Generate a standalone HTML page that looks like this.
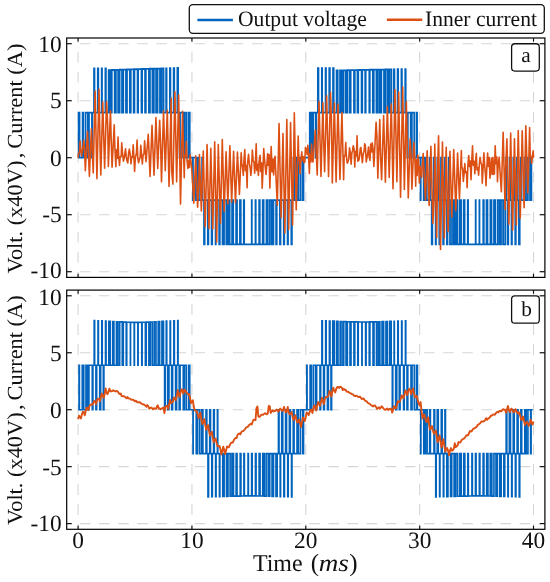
<!DOCTYPE html>
<html><head><meta charset="utf-8"><style>
html,body{margin:0;padding:0;background:#fff;}
svg{display:block;}
.t{font-family:"Liberation Serif",serif;font-size:22px;fill:#111;}
svg{text-rendering:geometricPrecision;}
</style></head><body>
<svg width="550" height="582" viewBox="0 0 550 582">
<rect width="550" height="582" fill="#fff"/>
<line x1="66.70" y1="43.70" x2="544.90" y2="43.70" stroke="#d6d6d6" stroke-width="1.1" stroke-dasharray="10.52 8.60" stroke-dashoffset="5.93"/>
<line x1="66.70" y1="100.70" x2="544.90" y2="100.70" stroke="#d6d6d6" stroke-width="1.1" stroke-dasharray="10.52 8.60" stroke-dashoffset="5.93"/>
<line x1="66.70" y1="157.70" x2="544.90" y2="157.70" stroke="#d6d6d6" stroke-width="1.1" stroke-dasharray="10.52 8.60" stroke-dashoffset="5.93"/>
<line x1="66.70" y1="214.70" x2="544.90" y2="214.70" stroke="#d6d6d6" stroke-width="1.1" stroke-dasharray="10.52 8.60" stroke-dashoffset="5.93"/>
<line x1="66.70" y1="271.70" x2="544.90" y2="271.70" stroke="#d6d6d6" stroke-width="1.1" stroke-dasharray="10.52 8.60" stroke-dashoffset="5.93"/>
<line x1="78.09" y1="38.00" x2="78.09" y2="277.40" stroke="#d6d6d6" stroke-width="1.1" stroke-dasharray="11.00 9.00" stroke-dashoffset="6.20"/>
<line x1="191.94" y1="38.00" x2="191.94" y2="277.40" stroke="#d6d6d6" stroke-width="1.1" stroke-dasharray="11.00 9.00" stroke-dashoffset="6.20"/>
<line x1="305.80" y1="38.00" x2="305.80" y2="277.40" stroke="#d6d6d6" stroke-width="1.1" stroke-dasharray="11.00 9.00" stroke-dashoffset="6.20"/>
<line x1="419.66" y1="38.00" x2="419.66" y2="277.40" stroke="#d6d6d6" stroke-width="1.1" stroke-dasharray="11.00 9.00" stroke-dashoffset="6.20"/>
<line x1="533.51" y1="38.00" x2="533.51" y2="277.40" stroke="#d6d6d6" stroke-width="1.1" stroke-dasharray="11.00 9.00" stroke-dashoffset="6.20"/>
<line x1="66.70" y1="295.80" x2="544.90" y2="295.80" stroke="#d6d6d6" stroke-width="1.1" stroke-dasharray="10.52 8.60" stroke-dashoffset="5.93"/>
<line x1="66.70" y1="352.75" x2="544.90" y2="352.75" stroke="#d6d6d6" stroke-width="1.1" stroke-dasharray="10.52 8.60" stroke-dashoffset="5.93"/>
<line x1="66.70" y1="409.70" x2="544.90" y2="409.70" stroke="#d6d6d6" stroke-width="1.1" stroke-dasharray="10.52 8.60" stroke-dashoffset="5.93"/>
<line x1="66.70" y1="466.65" x2="544.90" y2="466.65" stroke="#d6d6d6" stroke-width="1.1" stroke-dasharray="10.52 8.60" stroke-dashoffset="5.93"/>
<line x1="66.70" y1="523.60" x2="544.90" y2="523.60" stroke="#d6d6d6" stroke-width="1.1" stroke-dasharray="10.52 8.60" stroke-dashoffset="5.93"/>
<line x1="78.09" y1="290.10" x2="78.09" y2="529.30" stroke="#d6d6d6" stroke-width="1.1" stroke-dasharray="11.00 9.00" stroke-dashoffset="6.20"/>
<line x1="191.94" y1="290.10" x2="191.94" y2="529.30" stroke="#d6d6d6" stroke-width="1.1" stroke-dasharray="11.00 9.00" stroke-dashoffset="6.20"/>
<line x1="305.80" y1="290.10" x2="305.80" y2="529.30" stroke="#d6d6d6" stroke-width="1.1" stroke-dasharray="11.00 9.00" stroke-dashoffset="6.20"/>
<line x1="419.66" y1="290.10" x2="419.66" y2="529.30" stroke="#d6d6d6" stroke-width="1.1" stroke-dasharray="11.00 9.00" stroke-dashoffset="6.20"/>
<line x1="533.51" y1="290.10" x2="533.51" y2="529.30" stroke="#d6d6d6" stroke-width="1.1" stroke-dasharray="11.00 9.00" stroke-dashoffset="6.20"/>
<path d="M78.09 157.70 L78.64 157.70 L78.64 112.67 L79.51 112.67 L79.51 157.70 L82.64 157.70 L82.64 112.67 L83.09 112.67 L83.09 157.70 L85.50 157.70 L85.50 112.67 L87.83 112.67 L87.83 157.70 L88.96 157.70 L88.96 112.67 L91.96 112.67 L91.96 157.70 L92.36 157.70 L92.36 112.67 L94.03 112.67 L94.03 68.32 L94.47 68.32 L94.47 112.67 L97.81 112.67 L97.81 68.32 L98.28 68.32 L98.28 112.67 L101.71 112.67 L101.71 68.32 L101.98 68.32 L101.98 112.67 L105.41 112.67 L105.41 68.32 L105.87 68.32 L105.87 112.67 L108.69 112.67 L108.69 70.11 L110.18 70.11 L110.18 112.67 L111.75 112.67 L111.75 69.99 L114.70 69.99 L114.70 112.67 L115.88 112.67 L115.88 69.87 L118.17 69.87 L118.17 112.67 L119.61 112.67 L119.61 69.75 L122.03 69.75 L122.03 112.67 L123.24 112.67 L123.24 69.62 L125.99 69.62 L125.99 112.67 L126.97 112.67 L126.97 69.50 L129.85 69.50 L129.85 112.67 L130.74 112.67 L130.74 69.38 L133.67 69.38 L133.67 112.67 L134.41 112.67 L134.41 69.26 L137.59 69.26 L137.59 112.67 L138.10 112.67 L138.10 69.14 L141.49 69.14 L141.49 112.67 L142.08 112.67 L142.08 69.02 L145.10 69.02 L145.10 112.67 L145.81 112.67 L145.81 68.89 L148.96 68.89 L148.96 112.67 L149.93 112.67 L149.93 68.77 L152.43 68.77 L152.43 112.67 L153.85 112.67 L153.85 68.65 L156.10 68.65 L156.10 112.67 L157.56 112.67 L157.56 68.53 L159.99 68.53 L159.99 112.67 L161.61 112.67 L161.61 68.41 L163.53 68.41 L163.53 112.67 L166.15 112.67 L166.15 68.29 L166.58 68.29 L166.58 112.67 L169.92 112.67 L169.92 68.16 L170.39 68.16 L170.39 112.67 L173.68 112.67 L173.68 68.04 L174.23 68.04 L174.23 112.67 L177.39 112.67 L177.39 67.92 L178.11 67.92 L178.11 112.67 L179.65 112.67 L179.65 157.70 L180.01 157.70 L180.01 112.67 L183.08 112.67 L183.08 157.70 L184.38 157.70 L184.38 112.67 L186.30 112.67 L186.30 157.70 L188.56 157.70 L188.56 112.67 L189.71 112.67 L189.71 157.70 L192.89 157.70 L192.89 200.11 L192.96 200.11 L192.96 157.70 L195.95 157.70 L195.95 200.11 L197.50 200.11 L197.50 157.70 L198.91 157.70 L198.91 200.11 L202.13 200.11 L202.13 157.70 L202.42 157.70 L202.42 200.11 L204.04 200.11 L204.04 244.34 L204.60 244.34 L204.60 200.11 L207.86 200.11 L207.86 244.34 L208.36 244.34 L208.36 200.11 L211.62 200.11 L211.62 244.34 L212.19 244.34 L212.19 200.11 L215.62 200.11 L215.62 244.34 L215.79 244.34 L215.79 200.11 L219.19 200.11 L219.19 244.34 L219.80 244.34 L219.80 200.11 L222.56 200.11 L222.56 244.34 L224.02 244.34 L224.02 200.11 L226.34 200.11 L226.34 244.34 L227.84 244.34 L227.84 200.11 L229.66 200.11 L229.66 244.34 L232.10 244.34 L232.10 200.11 L233.20 200.11 L233.20 244.34 L236.16 244.34 L236.16 200.11 L236.99 200.11 L236.99 244.34 L239.96 244.34 L239.96 200.11 L240.73 200.11 L240.73 244.34 L243.80 244.34 L243.80 200.11 L244.17 200.11 L244.17 244.34 L251.76 244.34 L251.76 200.11 L251.81 200.11 L251.81 244.34 L255.49 244.34 L255.49 200.11 L255.71 200.11 L255.71 244.34 L259.19 244.34 L259.19 200.11 L259.75 200.11 L259.75 244.34 L262.74 244.34 L262.74 200.11 L263.60 200.11 L263.60 244.34 L266.48 244.34 L266.48 200.11 L267.78 200.11 L267.78 244.34 L269.89 244.34 L269.89 200.11 L271.84 200.11 L271.84 244.34 L273.42 244.34 L273.42 200.11 L276.14 200.11 L276.14 244.34 L276.70 244.34 L276.70 200.11 L279.94 200.11 L279.94 244.34 L280.50 244.34 L280.50 200.11 L283.78 200.11 L283.78 244.34 L284.25 244.34 L284.25 200.11 L287.61 200.11 L287.61 244.34 L288.01 244.34 L288.01 200.11 L291.35 200.11 L291.35 244.34 L291.87 244.34 L291.87 200.11 L293.50 200.11 L293.50 157.70 L294.20 157.70 L294.20 200.11 L296.60 200.11 L296.60 157.70 L298.09 157.70 L298.09 200.11 L300.30 200.11 L300.30 157.70 L302.49 157.70 L302.49 200.11 L303.49 200.11 L303.49 157.70 L309.78 157.70 L309.78 112.67 L311.39 112.67 L311.39 157.70 L313.09 157.70 L313.09 112.67 L315.66 112.67 L315.66 157.70 L316.27 157.70 L316.27 112.67 L317.88 112.67 L317.88 68.21 L318.46 68.21 L318.46 112.67 L321.84 112.67 L321.84 68.21 L322.10 68.21 L322.10 112.67 L325.57 112.67 L325.57 68.21 L325.96 68.21 L325.96 112.67 L329.27 112.67 L329.27 68.21 L329.85 68.21 L329.85 112.67 L333.04 112.67 L333.04 68.21 L333.67 68.21 L333.67 112.67 L336.60 112.67 L336.60 70.46 L337.69 70.46 L337.69 112.67 L340.05 112.67 L340.05 70.38 L341.84 70.38 L341.84 112.67 L343.57 112.67 L343.57 70.30 L345.91 70.30 L345.91 112.67 L347.35 112.67 L347.35 70.23 L349.72 70.23 L349.72 112.67 L350.66 112.67 L350.66 70.15 L354.00 70.15 L354.00 112.67 L354.75 112.67 L354.75 70.08 L357.49 70.08 L357.49 112.67 L358.24 112.67 L358.24 70.00 L361.60 70.00 L361.60 112.67 L362.22 112.67 L362.22 69.92 L365.21 69.92 L365.21 112.67 L365.68 112.67 L365.68 69.85 L369.34 69.85 L369.34 112.67 L369.78 112.67 L369.78 69.77 L372.83 69.77 L372.83 112.67 L373.76 112.67 L373.76 69.70 L376.44 69.70 L376.44 112.67 L377.91 112.67 L377.91 69.62 L379.88 69.62 L379.88 112.67 L381.35 112.67 L381.35 69.54 L384.03 69.54 L384.03 112.67 L385.43 112.67 L385.43 69.47 L387.55 69.47 L387.55 112.67 L389.31 112.67 L389.31 69.39 L391.26 69.39 L391.26 112.67 L393.77 112.67 L393.77 69.32 L394.39 69.32 L394.39 112.67 L397.61 112.67 L397.61 69.24 L398.14 69.24 L398.14 112.67 L401.46 112.67 L401.46 69.16 L401.88 69.16 L401.88 112.67 L405.26 112.67 L405.26 69.09 L405.66 69.09 L405.66 112.67 L407.36 112.67 L407.36 157.70 L407.80 157.70 L407.80 112.67 L410.71 112.67 L410.71 157.70 L411.84 157.70 L411.84 112.67 L414.26 112.67 L414.26 157.70 L416.64 157.70 L416.64 112.67 L417.05 112.67 L417.05 157.70 L420.57 157.70 L420.57 200.11 L420.71 200.11 L420.71 157.70 L423.71 157.70 L423.71 200.11 L425.17 200.11 L425.17 157.70 L426.80 157.70 L426.80 200.11 L429.67 200.11 L429.67 157.70 L430.37 157.70 L430.37 200.11 L431.75 200.11 L431.75 244.34 L432.31 244.34 L432.31 200.11 L433.69 200.11 L433.69 157.70 L434.31 157.70 L434.31 200.11 L435.68 200.11 L435.68 244.34 L435.97 244.34 L435.97 200.11 L437.34 200.11 L437.34 157.70 L438.19 157.70 L438.19 200.11 L439.30 200.11 L439.30 244.34 L439.94 244.34 L439.94 200.11 L441.05 200.11 L441.05 157.70 L441.86 157.70 L441.86 200.11 L443.16 200.11 L443.16 244.34 L443.67 244.34 L443.67 200.11 L444.97 200.11 L444.97 157.70 L445.66 157.70 L445.66 200.11 L446.95 200.11 L446.95 244.34 L447.47 244.34 L447.47 200.11 L448.76 200.11 L448.76 157.70 L449.11 157.70 L449.11 200.11 L450.01 200.11 L450.01 244.34 L452.01 244.34 L452.01 200.11 L453.93 200.11 L453.93 244.34 L455.67 244.34 L455.67 200.11 L457.42 200.11 L457.42 244.34 L459.78 244.34 L459.78 200.11 L461.06 200.11 L461.06 244.34 L463.72 244.34 L463.72 200.11 L464.58 200.11 L464.58 244.34 L467.79 244.34 L467.79 200.11 L468.08 200.11 L468.08 244.34 L475.67 244.34 L475.67 200.11 L475.73 200.11 L475.73 244.34 L479.41 244.34 L479.41 200.11 L479.47 200.11 L479.47 244.34 L483.27 244.34 L483.27 200.11 L483.79 200.11 L483.79 244.34 L486.53 244.34 L486.53 200.11 L487.47 200.11 L487.47 244.34 L490.44 244.34 L490.44 200.11 L491.49 200.11 L491.49 244.34 L494.02 244.34 L494.02 200.11 L495.29 200.11 L495.29 244.34 L497.80 244.34 L497.80 200.11 L499.69 200.11 L499.69 244.34 L501.00 244.34 L501.00 200.11 L503.08 200.11 L503.08 244.34 L505.20 244.34 L505.20 200.11 L506.04 200.11 L506.04 157.70 L506.27 157.70 L506.27 200.11 L507.63 200.11 L507.63 244.34 L508.24 244.34 L508.24 200.11 L509.60 200.11 L509.60 157.70 L510.12 157.70 L510.12 200.11 L511.54 200.11 L511.54 244.34 L511.92 244.34 L511.92 200.11 L513.34 200.11 L513.34 157.70 L514.08 157.70 L514.08 200.11 L515.28 200.11 L515.28 244.34 L515.77 244.34 L515.77 200.11 L516.97 200.11 L516.97 157.70 L517.78 157.70 L517.78 200.11 L518.96 200.11 L518.96 244.34 L519.68 244.34 L519.68 200.11 L520.86 200.11 L520.86 157.70 L521.55 157.70 L521.55 200.11 L524.68 200.11 L524.68 157.70 L525.97 157.70 L525.97 200.11 L527.85 200.11 L527.85 157.70 L530.05 157.70 L530.05 200.11 L531.36 200.11 L531.36 157.70 L532.60 157.70" fill="none" stroke="#0064BE" stroke-width="1.8" stroke-linejoin="miter" stroke-miterlimit="2"/><path d="M78.09 157.70 L78.45 153.52 L79.45 152.39 L80.10 141.12 L80.64 148.48 L81.57 156.02 L82.31 150.26 L83.20 146.47 L83.80 140.35 L84.45 147.71 L85.33 170.66 L87.49 131.59 L89.40 176.33 L91.35 128.97 L92.62 158.21 L93.22 172.96 L95.13 91.27 L96.94 178.64 L99.01 89.22 L100.17 152.13 L100.82 174.89 L102.74 101.94 L104.62 168.31 L106.58 101.54 L107.73 126.14 L108.37 166.57 L110.45 110.83 L111.15 138.77 L112.08 167.21 L114.21 124.89 L114.76 145.08 L115.87 166.76 L116.46 149.68 L117.39 158.13 L118.03 137.03 L118.69 156.16 L119.49 165.34 L120.14 157.17 L121.23 156.11 L121.72 142.79 L122.57 153.51 L123.44 161.10 L124.15 158.34 L124.92 153.30 L125.55 148.81 L126.27 156.66 L127.13 161.38 L127.82 162.94 L128.67 152.62 L129.36 149.11 L130.11 153.51 L130.99 163.82 L131.56 157.12 L132.48 157.32 L133.19 144.86 L133.89 156.60 L134.60 171.34 L135.36 157.91 L136.46 152.82 L137.09 140.00 L137.79 158.23 L138.53 162.78 L139.20 159.94 L140.13 157.33 L140.79 145.22 L141.44 152.59 L142.35 163.98 L142.97 155.62 L143.96 153.75 L144.61 140.86 L145.19 150.55 L146.05 161.77 L148.26 134.39 L150.06 176.40 L152.00 125.41 L154.02 175.14 L155.94 117.67 L157.74 168.41 L159.66 120.29 L160.60 143.66 L161.50 181.83 L163.53 111.02 L165.27 170.78 L167.28 110.31 L169.04 186.47 L171.16 98.13 L171.68 170.95 L172.89 184.09 L174.90 91.85 L176.64 181.84 L178.64 94.93 L180.54 204.09 L182.51 111.38 L184.25 177.76 L184.70 155.26 L185.75 155.99 L186.29 141.35 L187.10 160.98 L187.87 168.45 L188.46 160.36 L189.45 167.49 L190.08 154.92 L190.82 160.26 L191.65 167.41 L193.85 203.09 L195.68 155.77 L197.62 207.20 L198.81 184.32 L199.48 154.47 L201.34 211.04 L202.01 190.57 L203.24 151.03 L205.21 226.67 L207.06 144.47 L208.99 228.45 L210.80 148.38 L212.81 229.07 L214.69 141.70 L216.68 241.97 L218.28 144.60 L220.46 223.15 L222.28 139.59 L224.18 211.44 L226.10 151.68 L227.84 203.77 L229.88 145.90 L231.65 202.28 L233.60 151.27 L235.46 202.82 L237.44 152.17 L239.41 194.42 L241.18 152.80 L241.70 162.88 L242.58 167.72 L243.35 175.54 L243.93 160.70 L244.79 149.61 L245.49 170.74 L246.37 165.53 L247.14 187.84 L247.60 163.16 L248.54 154.23 L249.27 163.18 L250.22 168.45 L250.88 175.51 L251.52 168.72 L252.36 149.97 L253.13 160.72 L254.07 162.41 L254.63 173.29 L255.30 166.35 L256.21 143.90 L256.85 170.46 L257.72 164.58 L258.43 175.50 L259.02 161.78 L260.08 155.19 L260.63 171.54 L261.66 162.92 L262.19 188.13 L262.90 171.85 L263.73 148.63 L264.49 159.11 L265.35 168.40 L266.05 174.42 L266.69 166.49 L267.61 153.69 L268.12 165.19 L269.12 154.49 L269.86 188.08 L270.51 165.97 L271.20 146.49 L272.06 171.99 L273.02 159.09 L273.63 175.02 L274.30 161.61 L275.05 156.21 L277.31 205.29 L279.04 123.63 L281.09 217.67 L282.97 133.58 L284.85 232.96 L286.81 119.52 L288.67 229.40 L290.56 122.51 L292.58 224.96 L294.32 112.86 L296.22 209.84 L298.21 136.11 L298.66 154.04 L299.59 163.03 L300.14 173.74 L300.84 160.90 L301.77 151.89 L302.33 160.31 L303.36 156.69 L304.01 162.86 L304.72 161.72 L305.46 147.38 L306.24 149.26 L307.13 154.47 L307.83 145.38 L308.44 152.25 L309.37 173.56 L310.00 153.68 L310.96 162.04 L311.52 143.94 L312.26 158.84 L313.01 161.94 L315.30 130.13 L316.28 153.96 L317.21 174.93 L319.02 101.51 L320.98 176.47 L322.93 102.68 L323.51 134.99 L324.60 171.62 L326.64 95.87 L328.54 176.59 L330.50 92.40 L331.37 116.76 L332.31 182.90 L334.35 102.93 L336.10 181.91 L337.97 103.94 L339.95 179.47 L341.95 112.34 L342.43 133.14 L343.62 179.68 L344.16 155.97 L345.09 155.65 L345.75 142.63 L346.40 156.67 L347.24 163.18 L348.01 161.86 L348.78 158.62 L349.51 147.90 L350.34 152.85 L351.11 164.20 L351.78 153.61 L352.60 150.20 L353.23 145.74 L354.06 148.99 L354.79 166.92 L355.45 151.33 L356.47 155.86 L357.06 135.74 L357.81 161.18 L358.61 160.66 L359.30 158.43 L360.34 148.21 L360.90 147.50 L361.54 154.22 L362.39 162.63 L363.13 154.49 L364.10 151.07 L364.68 143.78 L365.39 145.48 L366.24 161.92 L366.94 157.56 L367.82 153.09 L368.49 147.01 L369.14 156.29 L369.98 160.38 L370.67 144.16 L371.72 152.01 L372.21 142.79 L373.00 148.06 L373.87 166.48 L376.09 122.24 L376.90 136.04 L377.84 178.12 L379.80 119.65 L380.59 156.50 L381.60 179.77 L383.62 115.54 L385.39 182.12 L387.38 106.64 L389.20 177.36 L391.27 104.01 L393.03 188.84 L394.94 89.64 L395.99 136.15 L396.89 181.62 L398.68 92.11 L400.54 197.19 L402.72 87.15 L404.35 189.38 L406.32 101.44 L408.26 197.91 L410.15 138.94 L411.19 157.22 L411.91 189.31 L413.89 142.50 L415.05 163.71 L415.71 186.23 L416.23 159.90 L417.14 175.41 L417.81 155.16 L418.64 162.70 L419.34 183.04 L420.04 166.24 L420.95 171.72 L421.64 177.26 L422.37 164.38 L423.18 153.48 L425.46 199.93 L427.17 150.68 L429.15 205.56 L430.90 146.27 L432.88 223.46 L434.23 196.03 L434.76 144.06 L436.75 237.41 L437.49 174.04 L438.56 135.82 L440.52 249.44 L442.47 142.08 L444.35 238.10 L446.20 147.38 L448.07 231.64 L449.94 151.31 L451.80 217.19 L453.72 149.60 L455.80 210.70 L457.58 152.95 L459.43 198.85 L461.36 150.44 L461.73 166.61 L462.64 169.04 L463.33 181.53 L464.06 173.84 L464.77 163.48 L465.46 172.75 L466.52 171.73 L467.13 187.76 L467.91 164.92 L468.73 155.47 L469.43 166.40 L470.30 160.94 L471.01 179.68 L471.70 161.83 L472.53 145.74 L473.17 165.13 L474.20 161.43 L474.82 173.80 L475.44 163.01 L476.31 153.24 L476.99 169.87 L477.99 167.81 L478.59 175.23 L479.16 166.85 L480.02 157.21 L480.77 162.23 L481.70 164.67 L482.28 183.31 L483.05 168.48 L483.90 152.86 L484.60 165.04 L485.53 175.07 L486.00 185.61 L486.80 168.16 L487.63 153.05 L488.36 166.50 L489.30 157.50 L489.93 178.28 L490.64 170.89 L491.44 158.29 L492.15 174.54 L492.91 157.33 L493.79 174.38 L494.42 173.95 L495.19 145.74 L495.95 163.72 L496.88 157.00 L497.48 181.62 L498.14 165.69 L499.13 157.33 L501.33 191.70 L503.17 132.29 L505.08 209.56 L505.64 168.98 L506.90 138.92 L508.85 224.26 L509.75 175.91 L510.68 133.05 L512.63 230.18 L514.46 138.80 L516.35 225.09 L518.24 130.54 L520.25 217.87 L522.22 130.69 L524.11 207.66 L525.81 125.70 L527.83 192.86 L528.54 169.37 L529.62 127.52 L530.19 155.22 L531.10 158.09 L531.63 163.30 L532.36 156.21 L533.19 150.91 L533.51 157.70" fill="none" stroke="#DD5014" stroke-width="1.6" stroke-linejoin="round"/>
<path d="M78.09 409.70 L79.04 409.70 L79.04 365.28 L79.40 365.28 L79.40 409.70 L82.26 409.70 L82.26 365.28 L83.77 365.28 L83.77 409.70 L85.98 409.70 L85.98 365.28 L87.65 365.28 L87.65 409.70 L88.92 409.70 L88.92 365.28 L92.29 365.28 L92.29 409.70 L92.89 409.70 L92.89 365.28 L94.18 365.28 L94.18 320.63 L94.63 320.63 L94.63 365.28 L95.92 365.28 L95.92 409.70 L96.65 409.70 L96.65 365.28 L98.01 365.28 L98.01 320.73 L98.38 320.73 L98.38 365.28 L99.74 365.28 L99.74 409.70 L100.66 409.70 L100.66 365.28 L101.78 365.28 L101.78 320.89 L102.21 320.89 L102.21 365.28 L103.32 365.28 L103.32 409.70 L103.89 409.70 L103.89 365.28 L105.53 365.28 L105.53 321.09 L106.05 321.09 L106.05 365.28 L108.84 365.28 L108.84 321.31 L110.33 321.31 L110.33 365.28 L112.83 365.28 L112.83 321.53 L113.92 321.53 L113.92 365.28 L116.46 365.28 L116.46 321.74 L117.89 321.74 L117.89 365.28 L119.68 365.28 L119.68 321.93 L122.26 321.93 L122.26 365.28 L123.28 365.28 L123.28 322.10 L126.25 322.10 L126.25 365.28 L126.72 365.28 L126.72 322.22 L130.40 322.22 L130.40 365.28 L130.51 365.28 L130.51 322.30 L134.19 322.30 L134.19 365.28 L134.44 365.28 L134.44 322.33 L137.85 322.33 L137.85 365.28 L138.10 365.28 L138.10 322.32 L141.78 322.32 L141.78 365.28 L142.09 365.28 L142.09 322.25 L145.39 322.25 L145.39 365.28 L146.18 365.28 L146.18 322.14 L148.89 322.14 L148.89 365.28 L150.34 365.28 L150.34 321.99 L152.32 321.99 L152.32 365.28 L154.26 365.28 L154.26 321.80 L155.99 321.80 L155.99 365.28 L158.21 365.28 L158.21 321.59 L159.63 321.59 L159.63 365.28 L161.95 365.28 L161.95 321.37 L163.49 321.37 L163.49 365.28 L164.61 365.28 L164.61 409.70 L165.27 409.70 L165.27 365.28 L166.28 365.28 L166.28 321.15 L166.75 321.15 L166.75 365.28 L167.75 365.28 L167.75 409.70 L168.94 409.70 L168.94 365.28 L170.12 365.28 L170.12 320.95 L170.49 320.95 L170.49 365.28 L171.68 365.28 L171.68 409.70 L172.58 409.70 L172.58 365.28 L173.85 365.28 L173.85 320.77 L174.36 320.77 L174.36 365.28 L175.62 365.28 L175.62 409.70 L176.59 409.70 L176.59 365.28 L177.74 365.28 L177.74 320.65 L178.06 320.65 L178.06 365.28 L179.20 365.28 L179.20 409.70 L180.08 409.70 L180.08 365.28 L183.30 365.28 L183.30 409.70 L184.53 409.70 L184.53 365.28 L186.45 365.28 L186.45 409.70 L188.83 409.70 L188.83 365.28 L189.73 365.28 L189.73 409.70 L193.01 409.70 L193.01 453.55 L193.14 453.55 L193.14 409.70 L196.24 409.70 L196.24 453.55 L197.51 453.55 L197.51 409.70 L199.66 409.70 L199.66 453.55 L201.68 453.55 L201.68 409.70 L202.90 409.70 L202.90 453.55 L206.03 453.55 L206.03 409.70 L206.80 409.70 L206.80 453.55 L207.97 453.55 L207.97 496.84 L208.54 496.84 L208.54 453.55 L209.72 453.55 L209.72 409.70 L210.51 409.70 L210.51 453.55 L211.78 453.55 L211.78 496.78 L212.33 496.78 L212.33 453.55 L213.59 453.55 L213.59 409.70 L214.27 409.70 L214.27 453.55 L215.64 453.55 L215.64 496.70 L216.06 496.70 L216.06 453.55 L217.43 453.55 L217.43 409.70 L217.75 409.70 L217.75 453.55 L219.42 453.55 L219.42 496.59 L219.87 496.59 L219.87 453.55 L222.75 453.55 L222.75 496.47 L224.13 496.47 L224.13 453.55 L226.49 453.55 L226.49 496.36 L227.98 496.36 L227.98 453.55 L230.12 453.55 L230.12 496.24 L231.94 496.24 L231.94 453.55 L233.50 453.55 L233.50 496.14 L236.15 496.14 L236.15 453.55 L237.03 453.55 L237.03 496.05 L240.21 496.05 L240.21 453.55 L240.91 453.55 L240.91 495.99 L243.92 495.99 L243.92 453.55 L244.37 453.55 L244.37 495.94 L248.05 495.94 L248.05 453.55 L248.38 453.55 L248.38 495.93 L251.63 495.93 L251.63 453.55 L252.15 453.55 L252.15 495.94 L255.45 495.94 L255.45 453.55 L256.06 453.55 L256.06 495.97 L259.13 495.97 L259.13 453.55 L260.07 453.55 L260.07 496.03 L262.72 496.03 L262.72 453.55 L264.24 453.55 L264.24 496.11 L266.13 496.11 L266.13 453.55 L268.21 453.55 L268.21 496.21 L269.76 496.21 L269.76 453.55 L272.05 453.55 L272.05 496.32 L273.51 496.32 L273.51 453.55 L275.98 453.55 L275.98 496.44 L277.16 496.44 L277.16 453.55 L278.47 453.55 L278.47 409.70 L279.02 409.70 L279.02 453.55 L280.18 453.55 L280.18 496.56 L280.56 496.56 L280.56 453.55 L281.72 453.55 L281.72 409.70 L282.73 409.70 L282.73 453.55 L283.88 453.55 L283.88 496.67 L284.44 496.67 L284.44 453.55 L285.59 453.55 L285.59 409.70 L286.53 409.70 L286.53 453.55 L287.73 453.55 L287.73 496.76 L288.19 496.76 L288.19 453.55 L289.38 453.55 L289.38 409.70 L290.27 409.70 L290.27 453.55 L291.55 453.55 L291.55 496.83 L291.96 496.83 L291.96 453.55 L293.24 453.55 L293.24 409.70 L294.07 409.70 L294.07 453.55 L297.03 453.55 L297.03 409.70 L298.26 409.70 L298.26 453.55 L300.42 453.55 L300.42 409.70 L302.73 409.70 L302.73 453.55 L303.54 453.55 L303.54 409.70 L306.81 409.70 L306.81 365.28 L307.06 365.28 L307.06 409.70 L310.11 409.70 L310.11 365.28 L311.35 365.28 L311.35 409.70 L313.40 409.70 L313.40 365.28 L315.65 365.28 L315.65 409.70 L316.64 409.70 L316.64 365.28 L320.01 365.28 L320.01 409.70 L320.65 409.70 L320.65 365.28 L321.90 365.28 L321.90 320.86 L322.33 320.86 L322.33 365.28 L323.58 365.28 L323.58 409.70 L324.39 409.70 L324.39 365.28 L325.67 365.28 L325.67 320.92 L326.15 320.92 L326.15 365.28 L327.43 365.28 L327.43 409.70 L328.39 409.70 L328.39 365.28 L329.41 365.28 L329.41 321.03 L330.01 321.03 L330.01 365.28 L331.02 365.28 L331.02 409.70 L331.60 409.70 L331.60 365.28 L332.76 365.28 L332.76 321.16 L334.25 321.16 L334.25 365.28 L336.60 365.28 L336.60 321.31 L337.99 321.31 L337.99 365.28 L340.17 365.28 L340.17 321.46 L342.01 321.46 L342.01 365.28 L343.74 365.28 L343.74 321.60 L346.04 321.60 L346.04 365.28 L347.35 365.28 L347.35 321.73 L350.01 321.73 L350.01 365.28 L350.99 365.28 L350.99 321.83 L353.96 321.83 L353.96 365.28 L354.75 365.28 L354.75 321.92 L357.79 321.92 L357.79 365.28 L358.23 365.28 L358.23 321.97 L361.91 321.97 L361.91 365.28 L362.10 365.28 L362.10 321.99 L365.62 321.99 L365.62 365.28 L366.08 365.28 L366.08 321.98 L369.24 321.98 L369.24 365.28 L369.88 365.28 L369.88 321.94 L373.03 321.94 L373.03 365.28 L373.99 365.28 L373.99 321.86 L376.51 321.86 L376.51 365.28 L378.22 365.28 L378.22 321.76 L379.87 321.76 L379.87 365.28 L382.05 365.28 L382.05 321.64 L383.63 321.64 L383.63 365.28 L385.97 365.28 L385.97 321.50 L387.30 321.50 L387.30 365.28 L389.65 365.28 L389.65 321.35 L391.21 321.35 L391.21 365.28 L392.33 365.28 L392.33 409.70 L392.76 409.70 L392.76 365.28 L394.11 365.28 L394.11 321.21 L394.35 321.21 L394.35 365.28 L395.69 365.28 L395.69 409.70 L396.76 409.70 L396.76 365.28 L397.80 365.28 L397.80 321.07 L398.24 321.07 L398.24 365.28 L399.28 365.28 L399.28 409.70 L400.06 409.70 L400.06 365.28 L401.65 365.28 L401.65 320.95 L401.98 320.95 L401.98 365.28 L403.57 365.28 L403.57 409.70 L404.22 409.70 L404.22 365.28 L405.46 365.28 L405.46 320.87 L405.76 320.87 L405.76 365.28 L407.00 365.28 L407.00 409.70 L407.79 409.70 L407.79 365.28 L411.02 365.28 L411.02 409.70 L412.04 409.70 L412.04 365.28 L414.36 365.28 L414.36 409.70 L416.56 409.70 L416.56 365.28 L417.44 365.28 L417.44 409.70 L420.72 409.70 L420.72 453.55 L420.87 453.55 L420.87 409.70 L423.77 409.70 L423.77 453.55 L425.40 453.55 L425.40 409.70 L427.12 409.70 L427.12 453.55 L429.65 453.55 L429.65 409.70 L430.39 409.70 L430.39 453.55 L433.97 453.55 L433.97 409.70 L434.69 409.70 L434.69 453.55 L435.74 453.55 L435.74 496.84 L436.20 496.84 L436.20 453.55 L437.25 453.55 L437.25 409.70 L438.23 409.70 L438.23 453.55 L439.59 453.55 L439.59 496.78 L439.94 496.78 L439.94 453.55 L441.31 453.55 L441.31 409.70 L442.13 409.70 L442.13 453.55 L443.34 453.55 L443.34 496.70 L443.79 496.70 L443.79 453.55 L444.99 453.55 L444.99 409.70 L445.46 409.70 L445.46 453.55 L446.79 453.55 L446.79 496.59 L447.93 496.59 L447.93 453.55 L450.56 453.55 L450.56 496.47 L451.74 496.47 L451.74 453.55 L454.12 453.55 L454.12 496.36 L455.78 496.36 L455.78 453.55 L457.62 453.55 L457.62 496.24 L459.87 496.24 L459.87 453.55 L461.25 453.55 L461.25 496.14 L463.83 496.14 L463.83 453.55 L464.80 453.55 L464.80 496.05 L467.87 496.05 L467.87 453.55 L468.32 453.55 L468.32 495.99 L471.94 495.99 L471.94 453.55 L472.36 453.55 L472.36 495.94 L475.49 495.94 L475.49 453.55 L476.08 453.55 L476.08 495.93 L479.36 495.93 L479.36 453.55 L479.88 453.55 L479.88 495.94 L483.15 495.94 L483.15 453.55 L483.92 453.55 L483.92 495.97 L486.70 495.97 L486.70 453.55 L487.93 453.55 L487.93 496.03 L490.28 496.03 L490.28 453.55 L491.85 453.55 L491.85 496.11 L493.95 496.11 L493.95 453.55 L496.00 453.55 L496.00 496.21 L497.39 496.21 L497.39 453.55 L499.83 453.55 L499.83 496.32 L501.15 496.32 L501.15 453.55 L503.85 453.55 L503.85 496.44 L504.72 496.44 L504.72 453.55 L506.18 453.55 L506.18 409.70 L506.81 409.70 L506.81 453.55 L507.91 453.55 L507.91 496.56 L508.25 496.56 L508.25 453.55 L509.35 453.55 L509.35 409.70 L510.49 409.70 L510.49 453.55 L511.68 453.55 L511.68 496.67 L512.07 496.67 L512.07 453.55 L513.26 453.55 L513.26 409.70 L514.19 409.70 L514.19 453.55 L515.40 453.55 L515.40 496.76 L515.94 496.76 L515.94 453.55 L517.15 453.55 L517.15 409.70 L518.07 409.70 L518.07 453.55 L519.21 453.55 L519.21 496.83 L519.73 496.83 L519.73 453.55 L520.87 453.55 L520.87 409.70 L521.69 409.70 L521.69 453.55 L524.84 453.55 L524.84 409.70 L526.19 409.70 L526.19 453.55 L527.93 453.55 L527.93 409.70 L530.63 409.70 L530.63 453.55 L531.08 453.55 L531.08 409.70 L532.75 409.70" fill="none" stroke="#0064BE" stroke-width="1.65" stroke-linejoin="miter" stroke-miterlimit="2"/><path d="M78.09 419.32 L79.03 415.62 L79.98 417.04 L80.93 418.43 L81.88 414.38 L82.83 411.84 L83.78 412.20 L84.73 415.26 L85.68 411.11 L86.62 407.77 L87.57 408.09 L88.52 410.03 L89.47 405.97 L90.42 404.63 L91.37 404.51 L92.32 404.79 L93.27 402.96 L94.22 400.85 L95.16 402.04 L96.11 403.96 L97.06 399.70 L98.01 398.69 L98.96 398.61 L99.91 401.38 L100.86 397.34 L101.81 393.58 L102.75 396.31 L103.70 397.67 L104.65 394.15 L105.60 388.46 L106.55 392.61 L107.50 394.22 L108.45 391.90 L109.40 388.63 L110.35 391.24 L111.29 391.28 L112.24 391.03 L113.19 390.23 L114.14 390.89 L115.09 391.34 L116.04 391.20 L116.99 391.06 L117.94 391.74 L118.88 393.39 L119.83 394.07 L120.78 393.60 L121.73 396.06 L122.68 396.26 L123.63 396.28 L124.58 396.54 L125.53 397.41 L126.47 398.33 L127.42 397.06 L128.37 398.33 L129.32 398.49 L130.27 398.94 L131.22 399.64 L132.17 399.74 L133.12 399.58 L134.07 400.72 L135.01 401.33 L135.96 400.64 L136.91 401.99 L137.86 402.32 L138.81 402.40 L139.76 402.03 L140.71 403.17 L141.66 403.70 L142.60 404.27 L143.55 404.48 L144.50 404.87 L145.45 405.67 L146.40 406.74 L147.35 404.97 L148.30 406.27 L149.25 408.72 L150.20 407.95 L151.14 407.48 L152.09 408.44 L153.04 409.41 L153.99 408.21 L154.94 408.58 L155.89 408.92 L156.84 406.86 L157.79 405.28 L158.73 408.68 L159.68 408.40 L160.63 409.23 L161.58 408.54 L162.53 408.21 L163.48 407.62 L164.43 413.17 L165.38 406.60 L166.32 405.89 L167.27 406.06 L168.22 408.75 L169.17 404.28 L170.12 399.95 L171.07 403.18 L172.02 402.33 L172.97 401.45 L173.92 397.53 L174.86 398.85 L175.81 400.13 L176.76 396.32 L177.71 390.08 L178.66 393.93 L179.61 396.86 L180.56 392.74 L181.51 389.17 L182.45 391.03 L183.40 393.50 L184.35 389.67 L185.30 390.21 L186.25 392.46 L187.20 393.25 L188.15 394.42 L189.10 394.06 L190.05 398.05 L190.99 403.02 L191.94 401.98 L192.89 400.35 L193.84 407.02 L194.79 410.48 L195.74 410.64 L196.69 410.87 L197.64 414.01 L198.58 418.23 L199.53 416.33 L200.48 412.84 L201.43 419.66 L202.38 424.00 L203.33 422.04 L204.28 419.08 L205.23 424.59 L206.18 429.68 L207.12 427.20 L208.07 425.07 L209.02 430.84 L209.97 435.67 L210.92 433.23 L211.87 431.85 L212.82 437.75 L213.77 442.36 L214.71 439.45 L215.66 438.41 L216.61 442.82 L217.56 446.25 L218.51 446.19 L219.46 445.93 L220.41 449.08 L221.36 454.56 L222.30 451.24 L223.25 446.73 L224.20 449.97 L225.15 454.00 L226.10 450.20 L227.05 446.40 L228.00 447.39 L228.95 447.11 L229.90 444.86 L230.84 443.16 L231.79 442.55 L232.74 442.67 L233.69 440.58 L234.64 438.90 L235.59 437.96 L236.54 438.13 L237.49 434.97 L238.43 433.76 L239.38 433.35 L240.33 434.38 L241.28 432.25 L242.23 431.16 L243.18 431.06 L244.13 430.12 L245.08 429.12 L246.02 427.62 L246.97 427.12 L247.92 426.59 L248.87 425.33 L249.82 424.51 L250.77 423.84 L251.72 424.49 L252.67 421.70 L253.62 419.62 L254.56 419.85 L255.51 420.23 L256.46 408.17 L257.41 406.42 L258.36 416.50 L259.31 417.05 L260.26 416.11 L261.21 414.67 L262.15 414.60 L263.10 414.86 L264.05 413.91 L265.00 413.13 L265.95 413.78 L266.90 414.33 L267.85 413.09 L268.80 405.92 L269.75 406.44 L270.69 412.95 L271.64 411.50 L272.59 410.35 L273.54 411.49 L274.49 411.03 L275.44 410.91 L276.39 409.51 L277.34 410.05 L278.28 411.58 L279.23 409.97 L280.18 408.52 L281.13 409.56 L282.08 410.96 L283.03 410.42 L283.98 406.85 L284.93 410.06 L285.88 412.49 L286.82 411.23 L287.77 406.88 L288.72 412.78 L289.67 414.33 L290.62 413.71 L291.57 411.92 L292.52 416.33 L293.47 419.96 L294.41 417.95 L295.36 415.19 L296.31 419.65 L297.26 422.45 L298.21 422.15 L299.16 419.51 L300.11 423.57 L301.06 427.05 L302.00 421.83 L302.95 417.35 L303.90 419.60 L304.85 421.09 L305.80 416.69 L306.75 412.41 L307.70 413.15 L308.65 415.08 L309.60 412.18 L310.54 409.94 L311.49 409.77 L312.44 412.92 L313.39 408.83 L314.34 405.52 L315.29 407.32 L316.24 410.46 L317.19 405.27 L318.13 401.98 L319.08 404.01 L320.03 405.75 L320.98 401.82 L321.93 397.78 L322.88 401.07 L323.83 404.13 L324.78 399.09 L325.72 397.25 L326.67 396.89 L327.62 397.07 L328.57 395.13 L329.52 390.91 L330.47 392.73 L331.42 396.65 L332.37 390.83 L333.32 387.75 L334.26 390.73 L335.21 392.40 L336.16 388.94 L337.11 387.24 L338.06 386.87 L339.01 388.01 L339.96 386.78 L340.91 386.95 L341.85 387.96 L342.80 390.05 L343.75 388.79 L344.70 389.83 L345.65 389.73 L346.60 391.61 L347.55 391.86 L348.50 391.79 L349.45 392.80 L350.39 393.22 L351.34 393.69 L352.29 394.38 L353.24 394.48 L354.19 395.92 L355.14 396.21 L356.09 395.63 L357.04 396.10 L357.98 396.85 L358.93 397.15 L359.88 396.63 L360.83 397.69 L361.78 399.07 L362.73 398.74 L363.68 398.50 L364.63 400.12 L365.57 401.03 L366.52 401.16 L367.47 402.34 L368.42 403.30 L369.37 403.55 L370.32 404.37 L371.27 405.34 L372.22 405.76 L373.17 406.43 L374.11 405.40 L375.06 405.39 L376.01 406.96 L376.96 408.93 L377.91 408.20 L378.86 407.20 L379.81 408.80 L380.76 407.66 L381.70 406.22 L382.65 407.48 L383.60 408.56 L384.55 409.53 L385.50 409.81 L386.45 409.00 L387.40 408.45 L388.35 410.00 L389.30 409.05 L390.24 409.16 L391.19 408.43 L392.14 412.64 L393.09 409.79 L394.04 406.05 L394.99 408.06 L395.94 408.38 L396.89 405.02 L397.83 401.29 L398.78 402.07 L399.73 401.78 L400.68 399.24 L401.63 395.40 L402.58 396.63 L403.53 398.31 L404.48 394.81 L405.42 390.55 L406.37 391.96 L407.32 394.91 L408.27 390.73 L409.22 388.79 L410.17 390.32 L411.12 394.23 L412.07 390.57 L413.02 388.48 L413.96 393.32 L414.91 397.00 L415.86 396.74 L416.81 395.79 L417.76 400.37 L418.71 403.73 L419.66 405.38 L420.61 402.07 L421.55 411.40 L422.50 418.51 L423.45 415.32 L424.40 414.58 L425.35 418.25 L426.30 422.09 L427.25 421.48 L428.20 417.32 L429.15 424.84 L430.09 429.76 L431.04 427.53 L431.99 425.95 L432.94 430.55 L433.89 433.79 L434.84 432.44 L435.79 430.40 L436.74 436.15 L437.68 442.24 L438.63 439.43 L439.58 435.53 L440.53 440.94 L441.48 447.47 L442.43 443.37 L443.38 439.26 L444.33 445.67 L445.27 451.66 L446.22 448.59 L447.17 448.06 L448.12 450.82 L449.07 455.19 L450.02 450.49 L450.97 448.06 L451.92 450.73 L452.87 450.37 L453.81 448.70 L454.76 443.31 L455.71 447.18 L456.66 446.39 L457.61 445.29 L458.56 441.96 L459.51 442.65 L460.46 442.32 L461.40 440.42 L462.35 439.27 L463.30 438.88 L464.25 438.45 L465.20 437.25 L466.15 435.58 L467.10 435.12 L468.05 435.31 L469.00 433.17 L469.94 431.04 L470.89 431.61 L471.84 431.16 L472.79 429.28 L473.74 428.49 L474.69 428.14 L475.64 427.44 L476.59 426.94 L477.53 425.12 L478.48 424.48 L479.43 423.79 L480.38 423.13 L481.33 421.56 L482.28 421.46 L483.23 421.52 L484.18 421.18 L485.12 419.97 L486.07 418.20 L487.02 419.81 L487.97 418.54 L488.92 418.36 L489.87 417.21 L490.82 415.62 L491.77 415.70 L492.72 414.61 L493.66 414.57 L494.61 414.75 L495.56 413.75 L496.51 412.23 L497.46 411.75 L498.41 412.43 L499.36 411.04 L500.31 411.02 L501.25 411.30 L502.20 410.24 L503.15 409.20 L504.10 409.59 L505.05 409.68 L506.00 412.64 L506.95 409.41 L507.90 406.06 L508.85 409.39 L509.79 412.12 L510.74 409.46 L511.69 408.62 L512.64 410.71 L513.59 412.20 L514.54 410.47 L515.49 409.14 L516.44 412.19 L517.38 411.98 L518.33 413.82 L519.28 412.49 L520.23 415.97 L521.18 419.86 L522.13 419.64 L523.08 416.54 L524.03 421.13 L524.98 424.97 L525.92 422.93 L526.87 421.82 L527.82 423.68 L528.77 425.82 L529.72 423.32 L530.67 419.66 L531.62 423.07 L532.57 424.45 L533.51 421.53" fill="none" stroke="#DD5014" stroke-width="1.9" stroke-linejoin="round"/>
<rect x="66.70" y="38.00" width="478.20" height="239.40" fill="none" stroke="#000" stroke-width="1.2"/>
<line x1="66.70" y1="43.70" x2="71.80" y2="43.70" stroke="#111" stroke-width="1.15"/>
<line x1="544.90" y1="43.70" x2="539.80" y2="43.70" stroke="#111" stroke-width="1.15"/>
<line x1="66.70" y1="100.70" x2="71.80" y2="100.70" stroke="#111" stroke-width="1.15"/>
<line x1="544.90" y1="100.70" x2="539.80" y2="100.70" stroke="#111" stroke-width="1.15"/>
<line x1="66.70" y1="157.70" x2="71.80" y2="157.70" stroke="#111" stroke-width="1.15"/>
<line x1="544.90" y1="157.70" x2="539.80" y2="157.70" stroke="#111" stroke-width="1.15"/>
<line x1="66.70" y1="214.70" x2="71.80" y2="214.70" stroke="#111" stroke-width="1.15"/>
<line x1="544.90" y1="214.70" x2="539.80" y2="214.70" stroke="#111" stroke-width="1.15"/>
<line x1="66.70" y1="271.70" x2="71.80" y2="271.70" stroke="#111" stroke-width="1.15"/>
<line x1="544.90" y1="271.70" x2="539.80" y2="271.70" stroke="#111" stroke-width="1.15"/>
<line x1="78.09" y1="38.00" x2="78.09" y2="41.60" stroke="#111" stroke-width="1.15"/>
<line x1="78.09" y1="277.40" x2="78.09" y2="273.80" stroke="#111" stroke-width="1.15"/>
<line x1="191.94" y1="38.00" x2="191.94" y2="41.60" stroke="#111" stroke-width="1.15"/>
<line x1="191.94" y1="277.40" x2="191.94" y2="273.80" stroke="#111" stroke-width="1.15"/>
<line x1="305.80" y1="38.00" x2="305.80" y2="41.60" stroke="#111" stroke-width="1.15"/>
<line x1="305.80" y1="277.40" x2="305.80" y2="273.80" stroke="#111" stroke-width="1.15"/>
<line x1="419.66" y1="38.00" x2="419.66" y2="41.60" stroke="#111" stroke-width="1.15"/>
<line x1="419.66" y1="277.40" x2="419.66" y2="273.80" stroke="#111" stroke-width="1.15"/>
<line x1="533.51" y1="38.00" x2="533.51" y2="41.60" stroke="#111" stroke-width="1.15"/>
<line x1="533.51" y1="277.40" x2="533.51" y2="273.80" stroke="#111" stroke-width="1.15"/>
<rect x="66.70" y="290.10" width="478.20" height="239.20" fill="none" stroke="#000" stroke-width="1.2"/>
<line x1="66.70" y1="295.80" x2="71.80" y2="295.80" stroke="#111" stroke-width="1.15"/>
<line x1="544.90" y1="295.80" x2="539.80" y2="295.80" stroke="#111" stroke-width="1.15"/>
<line x1="66.70" y1="352.75" x2="71.80" y2="352.75" stroke="#111" stroke-width="1.15"/>
<line x1="544.90" y1="352.75" x2="539.80" y2="352.75" stroke="#111" stroke-width="1.15"/>
<line x1="66.70" y1="409.70" x2="71.80" y2="409.70" stroke="#111" stroke-width="1.15"/>
<line x1="544.90" y1="409.70" x2="539.80" y2="409.70" stroke="#111" stroke-width="1.15"/>
<line x1="66.70" y1="466.65" x2="71.80" y2="466.65" stroke="#111" stroke-width="1.15"/>
<line x1="544.90" y1="466.65" x2="539.80" y2="466.65" stroke="#111" stroke-width="1.15"/>
<line x1="66.70" y1="523.60" x2="71.80" y2="523.60" stroke="#111" stroke-width="1.15"/>
<line x1="544.90" y1="523.60" x2="539.80" y2="523.60" stroke="#111" stroke-width="1.15"/>
<line x1="78.09" y1="290.10" x2="78.09" y2="293.70" stroke="#111" stroke-width="1.15"/>
<line x1="78.09" y1="529.30" x2="78.09" y2="525.70" stroke="#111" stroke-width="1.15"/>
<line x1="191.94" y1="290.10" x2="191.94" y2="293.70" stroke="#111" stroke-width="1.15"/>
<line x1="191.94" y1="529.30" x2="191.94" y2="525.70" stroke="#111" stroke-width="1.15"/>
<line x1="305.80" y1="290.10" x2="305.80" y2="293.70" stroke="#111" stroke-width="1.15"/>
<line x1="305.80" y1="529.30" x2="305.80" y2="525.70" stroke="#111" stroke-width="1.15"/>
<line x1="419.66" y1="290.10" x2="419.66" y2="293.70" stroke="#111" stroke-width="1.15"/>
<line x1="419.66" y1="529.30" x2="419.66" y2="525.70" stroke="#111" stroke-width="1.15"/>
<line x1="533.51" y1="290.10" x2="533.51" y2="293.70" stroke="#111" stroke-width="1.15"/>
<line x1="533.51" y1="529.30" x2="533.51" y2="525.70" stroke="#111" stroke-width="1.15"/>
<g opacity="0.999">
<text x="61.73" y="52.38" text-anchor="end" class="t" style="font-size:23.4px">10</text>
<text x="61.73" y="108.14" text-anchor="end" class="t" style="font-size:23.4px">5</text>
<text x="61.73" y="165.53" text-anchor="end" class="t" style="font-size:23.4px">0</text>
<text x="61.73" y="222.34" text-anchor="end" class="t" style="font-size:23.4px">-5</text>
<text x="61.73" y="278.03" text-anchor="end" class="t" style="font-size:23.4px">-10</text>
<text x="61.73" y="305.43" text-anchor="end" class="t" style="font-size:23.4px">10</text>
<text x="61.73" y="361.19" text-anchor="end" class="t" style="font-size:23.4px">5</text>
<text x="61.73" y="418.13" text-anchor="end" class="t" style="font-size:23.4px">0</text>
<text x="61.73" y="475.49" text-anchor="end" class="t" style="font-size:23.4px">-5</text>
<text x="61.73" y="530.83" text-anchor="end" class="t" style="font-size:23.4px">-10</text>
<text x="78.09" y="548.3" text-anchor="middle" class="t" style="font-size:23.4px">0</text>
<text x="191.94" y="548.3" text-anchor="middle" class="t" style="font-size:23.4px">10</text>
<text x="305.80" y="548.3" text-anchor="middle" class="t" style="font-size:23.4px">20</text>
<text x="419.66" y="548.3" text-anchor="middle" class="t" style="font-size:23.4px">30</text>
<text x="533.51" y="548.3" text-anchor="middle" class="t" style="font-size:23.4px">40</text>
<text transform="translate(21.9,273.40) rotate(-90) scale(1,0.96)" class="t" style="font-size:22.4px">Volt. (x40V)</text>
<text transform="translate(21.9,158.20) rotate(-90) scale(1,0.96)" class="t" style="font-size:22.4px">,</text>
<text transform="translate(21.9,43.60) rotate(-90) scale(1,0.96)" text-anchor="end" class="t" style="font-size:22.4px">Current (A)<tspan dx="-0.8"></tspan></text>
<text transform="translate(21.9,525.10) rotate(-90) scale(1,0.96)" class="t" style="font-size:22.4px">Volt. (x40V)</text>
<text transform="translate(21.9,409.90) rotate(-90) scale(1,0.96)" class="t" style="font-size:22.4px">,</text>
<text transform="translate(21.9,295.30) rotate(-90) scale(1,0.96)" text-anchor="end" class="t" style="font-size:22.4px">Current (A)<tspan dx="-0.8"></tspan></text>
<rect x="511.6" y="43.75" width="27.7" height="27.3" rx="3.2" fill="#fff" stroke="#111" stroke-width="1.3"/><text x="521.25" y="61.70" class="t" style="font-size:21.3px">a</text>
<rect x="511.6" y="295.85" width="27.7" height="27.3" rx="3.2" fill="#fff" stroke="#111" stroke-width="1.3"/><text x="521.25" y="316.20" class="t" style="font-size:21.3px">b</text>
<rect x="189.3" y="4.6" width="355.0" height="28.7" rx="3.5" fill="#fff" stroke="#111" stroke-width="1.3"/><line x1="197.4" y1="20.0" x2="232.9" y2="20.0" stroke="#0064BE" stroke-width="2.5"/><line x1="386.9" y1="19.8" x2="422.3" y2="19.8" stroke="#DD5014" stroke-width="2.5"/><text transform="translate(238.03,26.3) scale(0.98,1)" class="t">Output voltage</text><text transform="translate(425.03,26.3) scale(0.98,1)" class="t">Inner current</text>
<text transform="translate(252.9,570.5) scale(0.99,1)" class="t" style="font-size:24.2px">Time</text><text x="310.73" y="570.9" class="t" style="font-size:25px">(</text><text transform="translate(318.8,570.5) scale(1.12,1)" class="t" style="font-size:24.2px;font-style:italic">ms</text><text x="349.27" y="570.9" class="t" style="font-size:25px">)</text>
</g>
</svg>
</body></html>
